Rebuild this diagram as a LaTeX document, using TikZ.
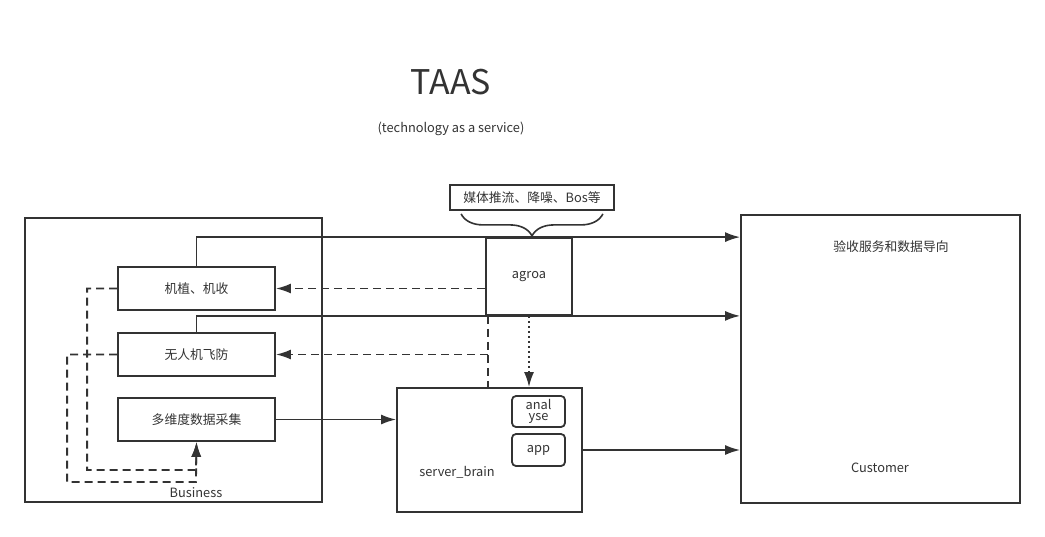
\documentclass[tikz,border=0pt]{standalone}
\usepackage{fontspec}
\setmainfont{Noto Sans CJK SC}
\usetikzlibrary{arrows.meta,decorations.pathreplacing}
\definecolor{linegray}{HTML}{333333}
\begin{document}
\begin{tikzpicture}[x=1pt,y=-1pt,font=\fontsize{12.8}{15}\selectfont,text=linegray]
    % Define styles
    \tikzstyle{bigbox}=[draw=linegray,line width=1.8pt,inner sep=0pt]
    \tikzstyle{block}=[draw=linegray,line width=1.8pt,minimum width=157pt,minimum height=43pt,inner sep=0pt]
    \tikzstyle{subblock}=[draw=linegray,line width=1.8pt,rounded corners=4pt,minimum width=53pt,minimum height=31pt,inner sep=0pt,align=center]
    \tikzstyle{outedge}=[line width=1.7pt,draw=linegray,-{Latex[length=15pt,width=10pt]}]
    \tikzstyle{dashedge}=[line width=1.8pt,draw=linegray,dash pattern=on 8pt off 5pt,-{Latex[length=15pt,width=10pt]}]
    \tikzstyle{dashline}=[line width=1.8pt,draw=linegray,dash pattern=on 8pt off 5pt]
    \tikzstyle{dotedge}=[line width=1.8pt,draw=linegray,dash pattern=on 2.5pt off 2.5pt,-{Latex[length=15pt,width=10pt]}]

    \useasboundingbox (0,0) rectangle (1045,536);

    % Title
    \node (t) at (451,82) {\fontsize{34}{40}\selectfont TAAS};
    \node (st) at (451,129) {(technology as a service)};

    % Draw the big boxes
    \node[bigbox,minimum width=297pt,minimum height=284pt] (1) at (173.5,360) {};
    \node (1l) at (196,493) {Business};
    \node[bigbox,minimum width=279pt,minimum height=288pt] (8) at (880.5,359) {};
    \node (8t) at (891,247) {验收服务和数据导向};
    \node (8l) at (880,468) {Customer};

    % Draw the business nodes
    \node[block] (2) at (196.5,288.5) {机植、机收};
    \node[block] (3) at (196.5,354.5) {无人机飞防};
    \node[block] (4) at (196.5,419.5) {多维度数据采集};

    % Draw the middle nodes
    \node[bigbox,minimum width=164pt,minimum height=25pt] (5) at (532,197.5) {媒体推流、降噪、Bos等};
    \node[bigbox,minimum width=86pt,minimum height=77pt] (6) at (529,276.5) {agroa};
    \node[bigbox,minimum width=185pt,minimum height=124pt] (7) at (489.5,450) {};
    \node (7l) at (457,472) {server\_brain};
    \node[subblock,font=\fontsize{12.8}{11}\selectfont] (71) at (538.5,411.5) {anal\\yse};
    \node[subblock,minimum height=32pt] (72) at (538.5,450) {app};

    % Draw the brace
    \draw[draw=linegray,line width=1.6pt,decorate,decoration={brace,mirror,amplitude=22pt}]
        ([xshift=12,yshift=-3]5.south west) -- ([xshift=-12,yshift=-3]5.south east);

    % Draw the edges
    \draw[outedge] (2.north) |- (8.west |- 6.north);
    \draw[outedge] (3.north) |- (8.west |- 6.south);
    \draw[outedge] (4.east) -- (7.west |- 4.east);
    \draw[outedge] (7.east) -- (8.west |- 7.east);
    \draw[dashedge] (6.west |- 2.east) -- (2.east);
    \draw[dashedge] ([xshift=3]6.south west) |- (3.east);
    \draw[dashline] ([xshift=3]6.south west) -- ([xshift=3]6.south west |- 7.north);
    \draw[dotedge] (6.south) -- (6.south |- 7.north);

    % Draw the feedback loops
    \coordinate (c1) at (196,470);
    \coordinate (c2) at (196,482);
    \draw[dashedge] (2.west) -- ++(-30,0) |- (c1) -- (4.south);
    \draw[dashedge] (3.west) -- ++(-50,0) |- (c2) -- (4.south);
\end{tikzpicture}
\end{document}
